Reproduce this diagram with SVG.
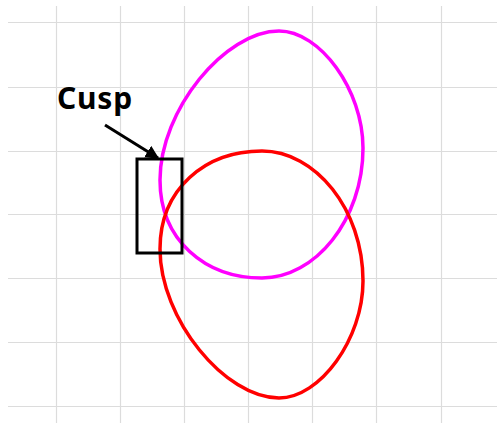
<svg xmlns="http://www.w3.org/2000/svg" width="497" height="423" viewBox="0 0 497 423">
<style>
.g{stroke:#dcdcdc;stroke-width:1.2;fill:none}
.c{fill:none;stroke-width:3.5}
</style>
<defs>
<marker id="ah" viewBox="0 0 10 10" refX="9" refY="5" markerWidth="4.5" markerHeight="4.5" orient="auto" markerUnits="strokeWidth"><path d="M0,0 L10,5 L0,10 z" fill="#000"/></marker>
<path id="egg" d="M279,31 C320,31 363,90 363,148 C363,220 315,278 262,278 C205,278 160,240 160,180 C160,110 225,31 279,31 Z"/>
</defs>
<rect width="497" height="423" fill="#fff"/>
<g id="grid" class="g">
<path d="M56.5,6V423M120.5,6V423M184.5,6V423M248.5,6V423M312.5,6V423M376.5,6V423M441.5,6V423"/>
<path d="M8,22.5H497M8,87.5H497M8,151.5H497M8,214.5H497M8,278.5H497M8,342.5H497M8,406.5H497"/>
</g>
<g id="magenta-curve"><use href="#egg" class="c" stroke="#ff00ff"/></g>
<g id="red-curve"><use href="#egg" class="c" stroke="#ff0000" transform="translate(0,429) scale(1,-1)"/></g>
<g id="cusp-box"><rect x="137" y="159" width="45" height="94" fill="none" stroke="#000" stroke-width="3"/></g>
<g id="cusp-label"><text x="57" y="109" font-family="'Noto Sans','Open Sans',sans-serif" font-weight="bold" font-size="30" letter-spacing="0.8" fill="#000">Cusp</text></g>
<g id="connectors"><line x1="105" y1="125" x2="158" y2="158" stroke="#000" stroke-width="3" marker-end="url(#ah)"/></g>
</svg>
